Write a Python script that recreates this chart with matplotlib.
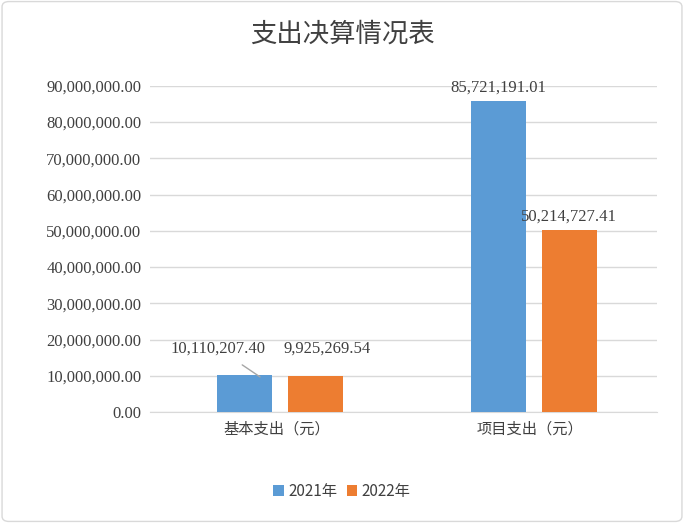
import matplotlib
matplotlib.use("Agg")
import matplotlib.pyplot as plt
from matplotlib.patches import FancyBboxPatch

categories = ["基本支出（元）", "项目支出（元）"]
series_names = ["2021年", "2022年"]
v2021 = [10110207.40, 85721191.01]
v2022 = [9925269.54, 50214727.41]
colors = ["#5B9BD5", "#ED7D31"]

cjk = "Noto Sans CJK SC"
num = "Liberation Serif"

fig = plt.figure(figsize=(6.84, 5.23), dpi=100)
fig.patches.append(FancyBboxPatch((0.003, 0.003), 0.994, 0.994, boxstyle="round,pad=0,rounding_size=0.01",
                                  transform=fig.transFigure, fc="white", ec="#D9D9D9", lw=1, zorder=-10))
ax = fig.add_axes([0.219, 0.212, 0.741, 0.624], zorder=5)
ax.patch.set_alpha(0)
w = 0.217
xs = [0, 1]
b1 = ax.bar([x - 0.125 for x in xs], v2021, w, color=colors[0], label=series_names[0], zorder=3)
b2 = ax.bar([x + 0.155 for x in xs], v2022, w, color=colors[1], label=series_names[1], zorder=3)
ax.set_xlim(-0.5, 1.5)
ax.set_ylim(0, 90000000)
ax.set_yticks(range(0, 90000001, 10000000))
ax.set_yticklabels([f"{t:,.2f}" for t in range(0, 90000001, 10000000)], fontfamily=num, fontsize=12, color="#404040")
ax.set_xticks(xs)
ax.set_xticklabels(categories, fontfamily=cjk, fontsize=11, color="#404040")
ax.tick_params(length=0, pad=6)
ax.grid(axis="y", color="#D9D9D9", lw=1, zorder=0)
for s in ["top", "right", "left"]:
    ax.spines[s].set_visible(False)
ax.spines["bottom"].set_color("#D9D9D9")

def fmt(v):
    return f"{v:,.2f}"

ax.annotate(fmt(v2021[0]), xy=(-0.065, v2021[0] - 400000), xytext=(-0.23, 17500000),
            ha="center", va="center", fontfamily=num, fontsize=12, color="#404040",
            arrowprops=dict(arrowstyle="-", color="#A6A6A6", lw=1, shrinkA=7, shrinkB=0))
ax.text(0.20, 17500000, fmt(v2022[0]), ha="center", va="center", fontfamily=num, fontsize=12, color="#404040")
ax.text(1 - 0.125, v2021[1] + 1600000, fmt(v2021[1]), ha="center", va="bottom", fontfamily=num, fontsize=12, color="#404040")
ax.text(1 + 0.155, v2022[1] + 1600000, fmt(v2022[1]), ha="center", va="bottom", fontfamily=num, fontsize=12, color="#404040")

fig.text(0.5, 0.935, "支出决算情况表", ha="center", va="center", fontfamily=cjk, fontsize=19, color="#404040")
leg = fig.legend(handles=[b1, b2], loc="center", bbox_to_anchor=(0.5, 0.06), ncol=2, frameon=False,
                 prop={"family": cjk, "size": 11}, handlelength=0.7, handleheight=0.7, columnspacing=0.6, handletextpad=0.3)
for t in leg.get_texts():
    t.set_color("#404040")
fig.savefig("out.png", dpi=100)
